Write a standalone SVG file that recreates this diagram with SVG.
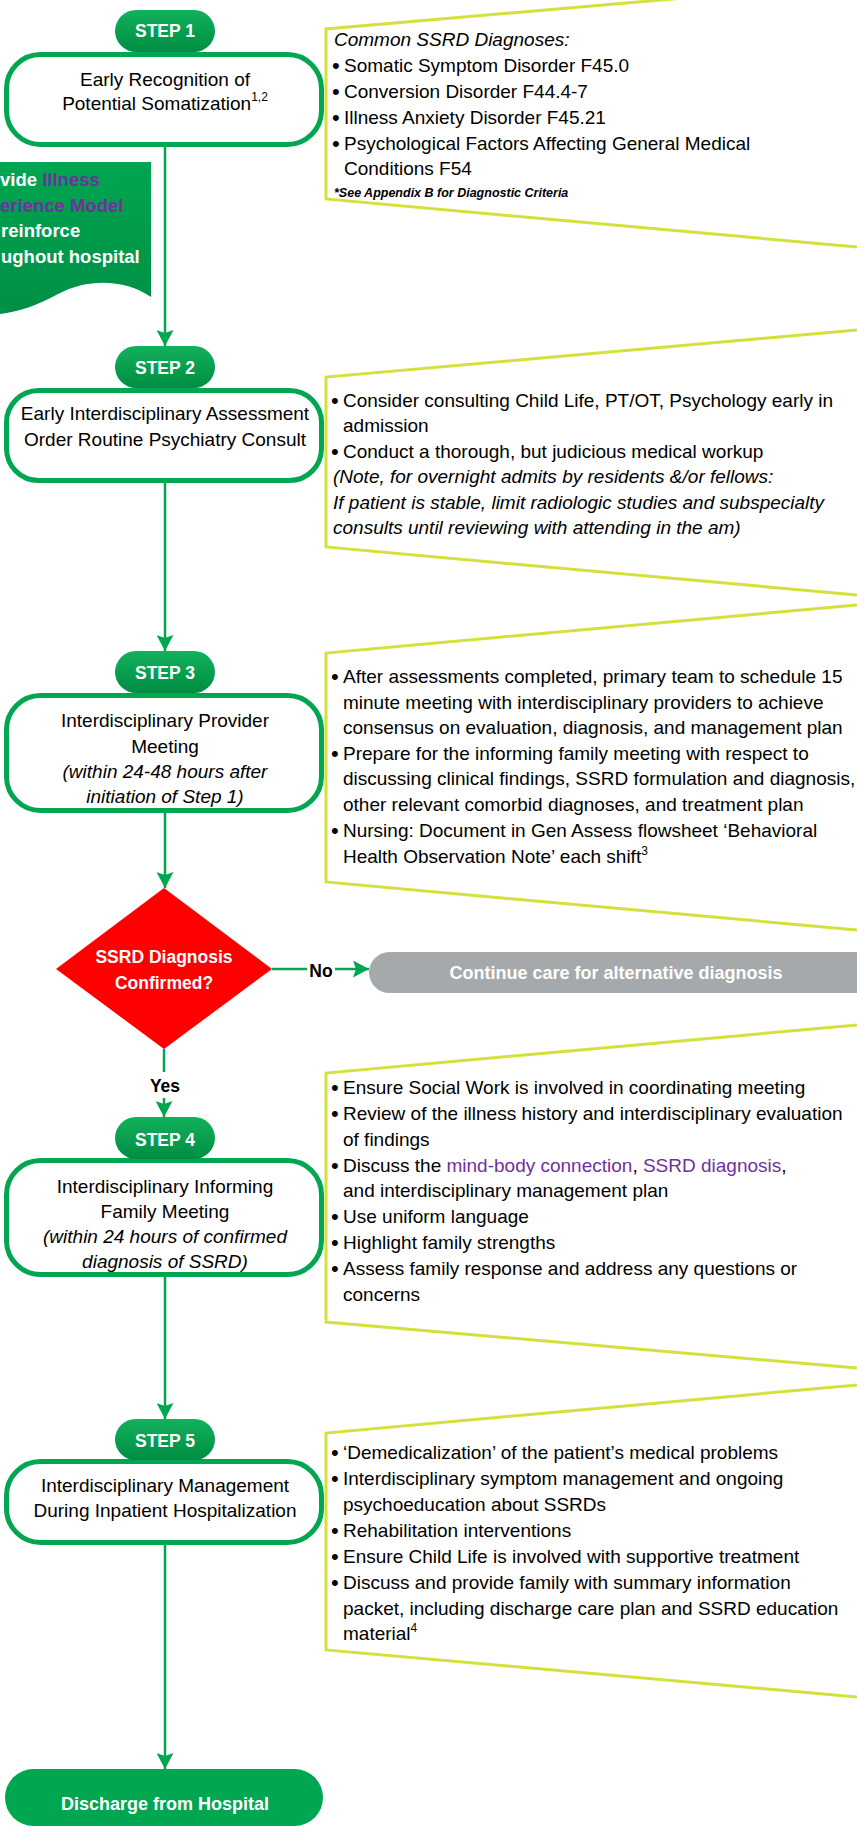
<svg xmlns="http://www.w3.org/2000/svg" width="857" height="1828" viewBox="0 0 857 1828">
  <defs>
    <linearGradient id="pillGrad" x1="0" y1="0" x2="0" y2="1">
      <stop offset="0" stop-color="#12B15C"/>
      <stop offset="1" stop-color="#008D43"/>
    </linearGradient>
    <linearGradient id="bannerGrad" x1="0" y1="0" x2="0" y2="1">
      <stop offset="0" stop-color="#00A651"/>
      <stop offset="1" stop-color="#008F45"/>
    </linearGradient>
    <marker id="arr" markerUnits="userSpaceOnUse" markerWidth="16" markerHeight="17" viewBox="0 0 16 17" refX="16" refY="8.5" orient="auto">
      <path d="M0,0 L16,8.5 L0,17 L3,8.5 z" fill="#00A650"/>
    </marker>
    <style>
      text { font-family: "Liberation Sans", Arial, sans-serif; }
      .box { fill: #FFFFFF; stroke: #00A650; stroke-width: 5; }
      .pill { fill: url(#pillGrad); }
      .pilltxt { font-size: 17.5px; font-weight: bold; fill: #FFFFFF; text-anchor: middle; }
      .btxt { font-size: 19px; fill: #000000; text-anchor: middle; }
      .it { font-style: italic; }
      .call { fill: #FFFFFF; stroke: #D4E13D; stroke-width: 3; }
      .ctxt { font-size: 19px; fill: #000000; }
      .bul { font-size: 22px; fill: #000000; }
      .conn { fill: none; stroke: #00A650; stroke-width: 2.5; }
      .lbl { font-size: 17.5px; font-weight: bold; fill: #000000; text-anchor: middle; }
      .wtxt { font-weight: bold; fill: #FFFFFF; text-anchor: middle; }
      .bantxt { font-size: 18.5px; font-weight: bold; fill: #FFFFFF; }
      .sup { font-size: 12px; }
      .purple { fill: #7030A0; }
    </style>
  </defs>

  <rect x="0" y="0" width="857" height="1828" fill="#FFFFFF"/>

  <!-- Callouts -->
  <g id="callout1">
    <path class="call" d="M857,-17 L326,29 L326,199 L857,247"/>
    <text class="ctxt it" x="334" y="46">Common SSRD Diagnoses:</text>
    <text class="bul" x="332" y="73">•</text><text class="ctxt" x="344" y="72">Somatic Symptom Disorder F45.0</text>
    <text class="bul" x="332" y="99">•</text><text class="ctxt" x="344" y="98">Conversion Disorder F44.4-7</text>
    <text class="bul" x="332" y="124.5">•</text><text class="ctxt" x="344" y="123.5">Illness Anxiety Disorder F45.21</text>
    <text class="bul" x="332" y="150.5">•</text><text class="ctxt" x="344" y="149.5">Psychological Factors Affecting General Medical</text>
    <text class="ctxt" x="344" y="175">Conditions F54</text>
    <text x="334" y="197" font-size="12.5" font-weight="bold" font-style="italic" fill="#000000">*See Appendix B for Diagnostic Criteria</text>
  </g>

  <g id="callout2">
    <path class="call" d="M857,330 L326,377 L326,547 L857,595"/>
    <text class="bul" x="331" y="408">•</text><text class="ctxt" x="343" y="407">Consider consulting Child Life, PT/OT, Psychology early in</text>
    <text class="ctxt" x="343" y="432">admission</text>
    <text class="bul" x="331" y="459">•</text><text class="ctxt" x="343" y="458">Conduct a thorough, but judicious medical workup</text>
    <text class="ctxt it" x="333" y="483">(Note, for overnight admits by residents &amp;/or fellows:</text>
    <text class="ctxt it" x="333" y="509">If patient is stable, limit radiologic studies and subspecialty</text>
    <text class="ctxt it" x="333" y="534">consults until reviewing with attending in the am)</text>
  </g>

  <g id="callout3">
    <path class="call" d="M857,605 L326,653 L326,882 L857,930"/>
    <text class="bul" x="331" y="684">•</text><text class="ctxt" x="343" y="683">After assessments completed, primary team to schedule 15</text>
    <text class="ctxt" x="343" y="709">minute meeting with interdisciplinary providers to achieve</text>
    <text class="ctxt" x="343" y="734">consensus on evaluation, diagnosis, and management plan</text>
    <text class="bul" x="331" y="761">•</text><text class="ctxt" x="343" y="760">Prepare for the informing family meeting with respect to</text>
    <text class="ctxt" x="343" y="785">discussing clinical findings, SSRD formulation and diagnosis,</text>
    <text class="ctxt" x="343" y="811">other relevant comorbid diagnoses, and treatment plan</text>
    <text class="bul" x="331" y="838">•</text><text class="ctxt" x="343" y="837">Nursing: Document in Gen Assess flowsheet ‘Behavioral</text>
    <text class="ctxt" x="343" y="863">Health Observation Note’ each shift<tspan class="sup" dy="-8">3</tspan></text>
  </g>

  <g id="callout4">
    <path class="call" d="M857,1025 L326,1073 L326,1322 L857,1368"/>
    <text class="bul" x="331" y="1095">•</text><text class="ctxt" x="343" y="1094">Ensure Social Work is involved in coordinating meeting</text>
    <text class="bul" x="331" y="1121">•</text><text class="ctxt" x="343" y="1120">Review of the illness history and interdisciplinary evaluation</text>
    <text class="ctxt" x="343" y="1146">of findings</text>
    <text class="bul" x="331" y="1173">•</text><text class="ctxt" x="343" y="1172">Discuss the <tspan class="purple">mind-body connection</tspan>, <tspan class="purple">SSRD diagnosis</tspan>,</text>
    <text class="ctxt" x="343" y="1197">and interdisciplinary management plan</text>
    <text class="bul" x="331" y="1224">•</text><text class="ctxt" x="343" y="1223">Use uniform language</text>
    <text class="bul" x="331" y="1250">•</text><text class="ctxt" x="343" y="1249">Highlight family strengths</text>
    <text class="bul" x="331" y="1276">•</text><text class="ctxt" x="343" y="1275">Assess family response and address any questions or</text>
    <text class="ctxt" x="343" y="1301">concerns</text>
  </g>

  <g id="callout5">
    <path class="call" d="M857,1385 L326,1433 L326,1650 L857,1697"/>
    <text class="bul" x="331" y="1460">•</text><text class="ctxt" x="343" y="1459">‘Demedicalization’ of the patient’s medical problems</text>
    <text class="bul" x="331" y="1486">•</text><text class="ctxt" x="343" y="1485">Interdisciplinary symptom management and ongoing</text>
    <text class="ctxt" x="343" y="1511">psychoeducation about SSRDs</text>
    <text class="bul" x="331" y="1538">•</text><text class="ctxt" x="343" y="1537">Rehabilitation interventions</text>
    <text class="bul" x="331" y="1564">•</text><text class="ctxt" x="343" y="1563">Ensure Child Life is involved with supportive treatment</text>
    <text class="bul" x="331" y="1590">•</text><text class="ctxt" x="343" y="1589">Discuss and provide family with summary information</text>
    <text class="ctxt" x="343" y="1615">packet, including discharge care plan and SSRD education</text>
    <text class="ctxt" x="343" y="1640">material<tspan class="sup" dy="-8">4</tspan></text>
  </g>

  <!-- Banner -->
  <g id="banner">
    <path d="M0,162 H151 V297 C125,279 88,278 58,294 C38,305 18,312 0,314 Z" fill="url(#bannerGrad)"/>
    <text class="bantxt" x="0" y="186">vide <tspan class="purple">Illness</tspan></text>
    <text class="bantxt" x="0" y="212"><tspan class="purple">erience Model</tspan></text>
    <text class="bantxt" x="1" y="237">reinforce</text>
    <text class="bantxt" x="1" y="263">ughout hospital</text>
  </g>

  <!-- Connectors -->
  <g id="connectors">
    <path class="conn" d="M165,147 V346" marker-end="url(#arr)"/>
    <path class="conn" d="M165,483 V651" marker-end="url(#arr)"/>
    <path class="conn" d="M165,813 V888" marker-end="url(#arr)"/>
    <path class="conn" d="M164,1049 V1072 M164,1098 V1117" marker-end="url(#arr)"/>
    <text class="lbl" x="165" y="1092" font-size="17">Yes</text>
    <path class="conn" d="M272,969 H307 M335,969 H369" marker-end="url(#arr)"/>
    <text class="lbl" x="321" y="977">No</text>
    <path class="conn" d="M165,1277 V1419" marker-end="url(#arr)"/>
    <path class="conn" d="M165,1545 V1769" marker-end="url(#arr)"/>
  </g>

  <!-- Step 1 -->
  <g id="step1">
    <rect class="box" x="6.5" y="54.5" width="315" height="90" rx="34"/>
    <rect class="pill" x="115" y="10" width="100" height="42" rx="21"/>
    <text class="pilltxt" x="165" y="37">STEP 1</text>
    <text class="btxt" x="165" y="86">Early Recognition of</text>
    <text class="btxt" x="165" y="110">Potential Somatization<tspan class="sup" dy="-9">1,2</tspan></text>
  </g>

  <!-- Step 2 -->
  <g id="step2">
    <rect class="box" x="6.5" y="390.5" width="315" height="90" rx="32"/>
    <rect class="pill" x="115" y="346" width="100" height="42" rx="21"/>
    <text class="pilltxt" x="165" y="374">STEP 2</text>
    <text class="btxt" x="165" y="420">Early Interdisciplinary Assessment</text>
    <text class="btxt" x="165" y="446">Order Routine Psychiatry Consult</text>
  </g>

  <!-- Step 3 -->
  <g id="step3">
    <rect class="box" x="6.5" y="695.5" width="315" height="115" rx="34"/>
    <rect class="pill" x="115" y="651" width="100" height="42" rx="21"/>
    <text class="pilltxt" x="165" y="679">STEP 3</text>
    <text class="btxt" x="165" y="727">Interdisciplinary Provider</text>
    <text class="btxt" x="165" y="753">Meeting</text>
    <text class="btxt it" x="165" y="778">(within 24-48 hours after</text>
    <text class="btxt it" x="165" y="803">initiation of Step 1)</text>
  </g>

  <!-- Decision -->
  <g id="decision">
    <polygon points="164,888 272,969 164,1049 56,969" fill="#FF0000"/>
    <text class="wtxt" x="164" y="963" font-size="17.5">SSRD Diagnosis</text>
    <text class="wtxt" x="164" y="989" font-size="17.5">Confirmed?</text>
  </g>

  <!-- Alternative -->
  <g id="alternative">
    <path d="M389.5,952 H857 V993 H389.5 A20.5,20.5 0 0 1 389.5,952 Z" fill="#A6A9AB"/>
    <text class="wtxt" x="616" y="979" font-size="18">Continue care for alternative diagnosis</text>
  </g>

  <!-- Step 4 -->
  <g id="step4">
    <rect class="box" x="6.5" y="1160.5" width="315" height="114" rx="34"/>
    <rect class="pill" x="115" y="1117" width="100" height="42" rx="21"/>
    <text class="pilltxt" x="165" y="1146">STEP 4</text>
    <text class="btxt" x="165" y="1193">Interdisciplinary Informing</text>
    <text class="btxt" x="165" y="1218">Family Meeting</text>
    <text class="btxt it" x="165" y="1243">(within 24 hours of confirmed</text>
    <text class="btxt it" x="165" y="1268">diagnosis of SSRD)</text>
  </g>

  <!-- Step 5 -->
  <g id="step5">
    <rect class="box" x="6.5" y="1461.5" width="315" height="81" rx="34"/>
    <rect class="pill" x="115" y="1419" width="100" height="41" rx="20.5"/>
    <text class="pilltxt" x="165" y="1447">STEP 5</text>
    <text class="btxt" x="165" y="1492">Interdisciplinary Management</text>
    <text class="btxt" x="165" y="1517">During Inpatient Hospitalization</text>
  </g>

  <!-- Discharge -->
  <g id="discharge">
    <rect x="5" y="1769" width="318" height="57" rx="28.5" fill="#00A650"/>
    <text class="wtxt" x="165" y="1810" font-size="18">Discharge from Hospital</text>
  </g>
</svg>
